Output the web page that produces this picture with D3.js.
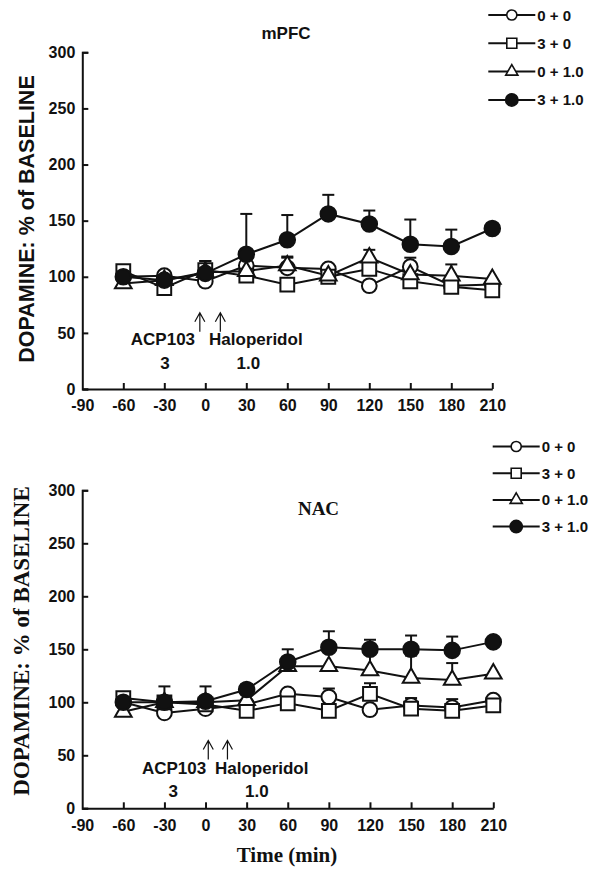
<!doctype html>
<html>
<head>
<meta charset="utf-8">
<script src="https://d3js.org/d3.v7.min.js"></script>
<style>
  body { margin: 0; background: #fff; }
</style>
</head>
<body>
<svg id="chart" width="602" height="873"></svg>
<script>
// time points (min) and axis ticks
const times = [-60, -30, 0, 30, 60, 90, 120, 150, 180, 210];
const xTicks = [-90, -60, -30, 0, 30, 60, 90, 120, 150, 180, 210];
const yTicks = [0, 50, 100, 150, 200, 250, 300];
const groupLabels = ["0 + 0", "3 + 0", "0 + 1.0", "3 + 1.0"];

// mPFC, % of baseline
const mpfc00 = [100, 101, 96, 110, 108, 107, 92, 109, 92, 93];
const mpfc30 = [105, 90, 106, 101, 93, 100, 107, 96, 91, 88];
const mpfc01 = [94, 97, 104, 105, 110, 101, 117, 102, 101, 98];
const mpfc31 = [100, 97, 103, 120, 133, 156, 147, 129, 127, 143];
// mPFC, SEM (upper bars)
const mpfc00Err = [0, 0, 0, 0, 9, 0, 0, 8, 0, 0];
const mpfc30Err = [0, 0, 8, 0, 0, 0, 0, 0, 0, 0];
const mpfc01Err = [0, 0, 0, 0, 8, 0, 7, 0, 10, 0];
const mpfc31Err = [0, 0, 11, 36, 22, 17, 12, 22, 15, 0];

// NAC, % of baseline
const nac00 = [100, 90, 94, 98, 108, 105, 93, 97, 95, 102];
const nac30 = [104, 100, 98, 92, 99, 92, 108, 94, 92, 97];
const nac01 = [91, 100, 100, 102, 134, 134, 130, 123, 121, 127];
const nac31 = [100, 100, 101, 112, 138, 152, 150, 150, 149, 157];
// NAC, SEM (upper bars)
const nac00Err = [0, 0, 0, 0, 0, 8, 0, 7, 8, 0];
const nac30Err = [0, 0, 0, 0, 0, 0, 10, 0, 0, 0];
const nac01Err = [0, 0, 0, 0, 0, 0, 16, 21, 16, 0];
const nac31Err = [0, 15, 14, 5, 12, 15, 9, 13, 13, 0];

// drug injection arrows (time)
const mpfcArrows = [-4, 11];
const nacArrows = [2, 16];

const svg = d3.select("#chart");
const sans = "'Liberation Sans', Arial, sans-serif";
const serif = "'Liberation Serif', 'Times New Roman', serif";

const shapes = [
  { type: d3.symbolCircle, size: 170, fill: "#fff", legendSize: 80 },
  { type: d3.symbolSquare, size: 190, fill: "#fff", legendSize: 100 },
  { type: d3.symbolTriangle, size: 120, fill: "#fff", legendSize: 64 },
  { type: d3.symbolCircle, size: 190, fill: "#111", legendSize: 120 }
];

function drawPanel(p) {
  const x = d3.scaleLinear().domain([-90, 210]).range(p.xRange);
  const y = d3.scaleLinear().domain([0, 300]).range(p.yRange);
  const g = svg.append("g");

  // axes
  const yAxis = d3.axisLeft(y).tickValues(yTicks).tickSizeInner(-6).tickSizeOuter(-6)
    .tickFormat(d => String(d));
  const xAxis = d3.axisBottom(x).tickValues(xTicks).tickSizeInner(-6).tickSizeOuter(0)
    .tickFormat(d => String(d));

  const ya = g.append("g").attr("transform", `translate(${p.xRange[0]},0)`).call(yAxis);
  const xa = g.append("g").attr("transform", `translate(0,${p.yRange[0]})`).call(xAxis);
  [ya, xa].forEach(a => {
    a.selectAll("path, line").attr("stroke", "#111").attr("stroke-width", 2);
    a.selectAll("text").attr("fill", "#111")
      .style("font-family", sans).style("font-weight", "bold").style("font-size", "16px");
  });
  ya.selectAll("text").attr("x", -7);
  xa.selectAll("text").attr("y", 11);
  xa.selectAll(".tick").filter(d => d === -90).select("line").remove();

  const line = d3.line().x((d, i) => x(times[i])).y(d => y(d));

  // lines
  p.series.forEach(s => {
    g.append("path").datum(s)
      .attr("fill", "none").attr("stroke", "#111").attr("stroke-width", 2)
      .attr("d", line);
  });

  // error bars (upper only)
  p.errors.forEach((errs, k) => {
    const vals = p.series[k];
    errs.forEach((e, i) => {
      if (!e) return;
      const cx = x(times[i]);
      g.append("line").attr("x1", cx).attr("x2", cx)
        .attr("y1", y(vals[i])).attr("y2", y(vals[i] + e))
        .attr("stroke", "#111").attr("stroke-width", 2);
      g.append("line").attr("x1", cx - 6).attr("x2", cx + 6)
        .attr("y1", y(vals[i] + e)).attr("y2", y(vals[i] + e))
        .attr("stroke", "#111").attr("stroke-width", 2);
    });
  });

  // markers
  p.series.forEach((s, k) => {
    const sh = shapes[k];
    g.selectAll(null).data(s).join("path")
      .attr("transform", (d, i) => `translate(${x(times[i])},${y(d)})`)
      .attr("d", d3.symbol().type(sh.type).size(sh.size))
      .attr("fill", sh.fill).attr("stroke", "#111").attr("stroke-width", 2);
  });

  // title
  g.append("text").attr("x", p.titlePos[0]).attr("y", p.titlePos[1])
    .attr("text-anchor", "middle").attr("fill", "#111")
    .style("font-family", p.titleFont).style("font-weight", "bold").style("font-size", p.titleSize)
    .text(p.title);

  // y-axis label
  g.append("text")
    .attr("transform", `translate(${p.yLabelPos[0]},${p.yLabelPos[1]}) rotate(-90)`)
    .attr("text-anchor", "middle").attr("fill", "#111")
    .style("font-family", p.yLabelFont).style("font-weight", "bold").style("font-size", p.yLabelSize)
    .text("DOPAMINE: % of BASELINE");

  // injection arrows
  p.arrows.forEach(t => {
    const ax = x(t), tip = y(p.arrowTip), base = y(p.arrowBase);
    g.append("path")
      .attr("d", `M${ax},${base}V${tip}M${ax - 5},${tip + 9}L${ax},${tip}L${ax + 5},${tip + 9}`)
      .attr("fill", "none").attr("stroke", "#111").attr("stroke-width", 1.2);
  });
  p.notes.forEach(n => {
    g.append("text").attr("x", x(n[0])).attr("y", y(n[1]))
      .attr("text-anchor", "middle").attr("fill", "#111")
      .style("font-family", sans).style("font-weight", "bold").style("font-size", "17px")
      .text(n[2]);
  });

  // legend
  const lg = g.append("g");
  groupLabels.forEach((lab, k) => {
    const ly = p.legend.y + k * p.legend.dy;
    const sh = shapes[k];
    lg.append("line").attr("x1", p.legend.x).attr("x2", p.legend.x + 47)
      .attr("y1", ly).attr("y2", ly).attr("stroke", "#111").attr("stroke-width", 2);
    lg.append("path").attr("transform", `translate(${p.legend.x + 23.5},${ly})`)
      .attr("d", d3.symbol().type(sh.type).size(sh.legendSize))
      .attr("fill", sh.fill).attr("stroke", "#111").attr("stroke-width", 1.6);
    lg.append("text").attr("x", p.legend.x + 49).attr("y", ly + 5.5)
      .attr("fill", "#111")
      .style("font-family", sans).style("font-weight", "bold").style("font-size", "15px")
      .text(lab);
  });
  return { x, y };
}

drawPanel({
  xRange: [82.3, 492.3], yRange: [389, 52.3],
  series: [mpfc00, mpfc30, mpfc01, mpfc31],
  errors: [mpfc00Err, mpfc30Err, mpfc01Err, mpfc31Err],
  title: "mPFC", titleFont: sans, titleSize: "17px", titlePos: [286, 39],
  yLabelFont: sans, yLabelSize: "21.5px", yLabelPos: [34, 219],
  arrows: mpfcArrows, arrowTip: 68, arrowBase: 51,
  notes: [[-31, 39, "ACP103"], [37, 39, "Haloperidol"], [-29.5, 18, "3"], [31.5, 18, "1.0"]],
  legend: { x: 488.3, y: 15, dy: 28.3 }
});

drawPanel({
  xRange: [82.2, 493.3], yRange: [808.3, 490.3],
  series: [nac00, nac30, nac01, nac31],
  errors: [nac00Err, nac30Err, nac01Err, nac31Err],
  title: "NAC", titleFont: serif, titleSize: "19px", titlePos: [318.5, 515],
  yLabelFont: serif, yLabelSize: "23px", yLabelPos: [29, 641],
  arrows: nacArrows, arrowTip: 64, arrowBase: 46,
  notes: [[-23, 32, "ACP103"], [41, 32, "Haloperidol"], [-23.5, 11, "3"], [37.4, 11, "1.0"]],
  legend: { x: 492.7, y: 446.5, dy: 26.7 }
});

svg.append("text").attr("x", 287).attr("y", 862)
  .attr("text-anchor", "middle").attr("fill", "#111")
  .style("font-family", serif).style("font-weight", "bold").style("font-size", "21px")
  .text("Time (min)");
</script>
</body>
</html>
